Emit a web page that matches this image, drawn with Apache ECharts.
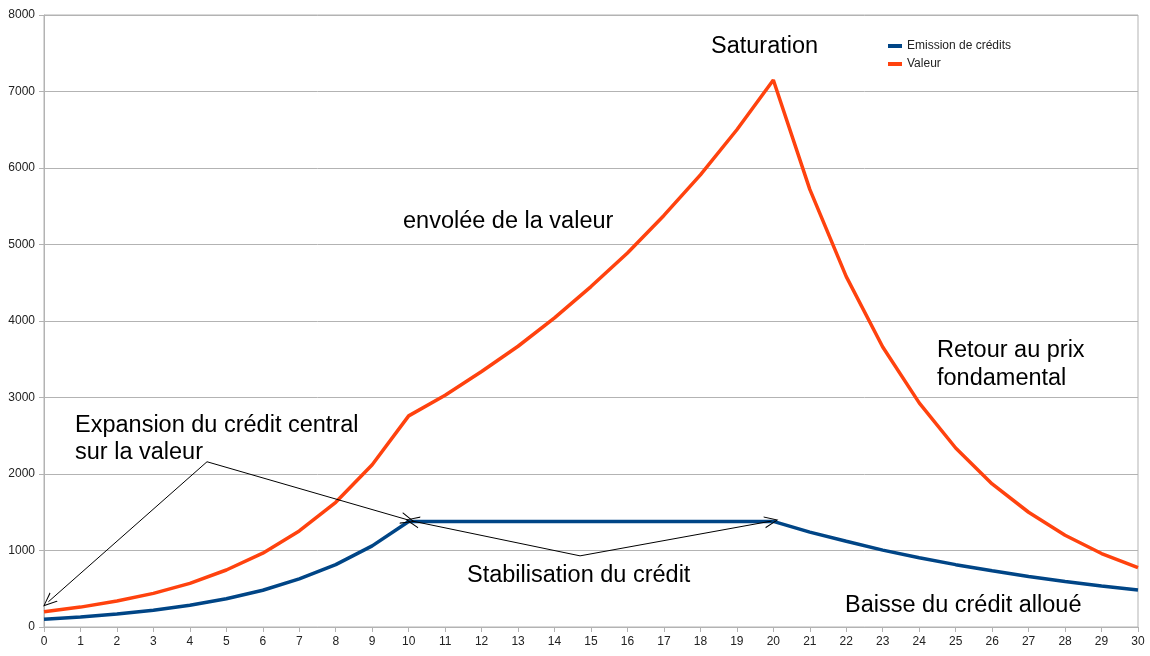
<!DOCTYPE html>
<html>
<head>
<meta charset="utf-8">
<title>Emission de crédits / Valeur</title>
<script src="https://cdn.jsdelivr.net/npm/echarts@6/dist/echarts.min.js"></script>
<style>
  html, body { margin: 0; padding: 0; background: #fff; }
  #chart { width: 1150px; height: 656px; }
</style>
</head>
<body>
<div id="chart"></div>
<script>
// abscisses 0..30
const periods = [0, 1, 2, 3, 4, 5, 6, 7, 8, 9, 10, 11, 12, 13, 14, 15, 16, 17, 18, 19, 20,
  21, 22, 23, 24, 25, 26, 27, 28, 29, 30]
const yTicks = [0, 1000, 2000, 3000, 4000, 5000, 6000, 7000, 8000]

const emissionCredits = [100, 130, 170, 220, 285, 370, 480, 630, 815, 1060, 1380,
  1380, 1380, 1380, 1380, 1380, 1380, 1380, 1380, 1380, 1380,
  1240, 1120, 1005, 905, 815, 735, 660, 595, 535, 485]
const valeur = [200, 260, 340, 440, 570, 745, 965, 1255, 1630, 2120, 2760,
  3030, 3340, 3670, 4040, 4450, 4890, 5380, 5910, 6500, 7150,
  5720, 4580, 3660, 2930, 2340, 1870, 1500, 1200, 960, 775]

// flèches d'annotation (coordonnées en unités des axes)
const arrows = [
  [[4.47, 2160], [0.12, 330]],
  [[4.47, 2160], [9.98, 1400]],
  [[14.7, 930], [10.1, 1385]],
  [[14.7, 930], [19.95, 1385]]
]

const chevron = 'path://M5,0 L10,12 L9,12 L5,2 L1,12 L0,12 Z'
const textFont = '23.5px "Liberation Sans", Arial, sans-serif'

const chart = echarts.init(document.getElementById('chart'))

chart.setOption({
  animation: false,
  textStyle: { fontFamily: '"Liberation Sans", Arial, sans-serif' },
  grid: {
    left: 44,
    right: 12,
    top: 15,
    bottom: 29,
    show: true,
    borderColor: '#b3b3b3',
    borderWidth: 1
  },
  legend: {
    orient: 'vertical',
    left: 888,
    top: 40,
    padding: 0,
    itemWidth: 14,
    itemHeight: 4,
    itemGap: 6,
    icon: 'rect',
    textStyle: { fontSize: 12, color: '#222', lineHeight: 12 },
    data: ['Emission de crédits', 'Valeur']
  },
  xAxis: {
    type: 'value',
    min: periods[0],
    max: periods[periods.length - 1],
    interval: 1,
    axisLine: { lineStyle: { color: '#b3b3b3' } },
    axisTick: { show: true, length: 5, lineStyle: { color: '#b3b3b3' } },
    axisLabel: { color: '#222', fontSize: 12, margin: 9 },
    splitLine: { show: false }
  },
  yAxis: {
    type: 'value',
    min: yTicks[0],
    max: yTicks[yTicks.length - 1],
    interval: 1000,
    axisLine: { show: true, lineStyle: { color: '#b3b3b3' } },
    axisTick: { show: true, length: 5, lineStyle: { color: '#b3b3b3' } },
    axisLabel: { color: '#222', fontSize: 12, margin: 9, formatter: v => String(v) },
    splitLine: { lineStyle: { color: '#b3b3b3', width: 1 } }
  },
  series: [
    {
      name: 'Emission de crédits',
      type: 'line',
      symbol: 'none',
      color: '#004586',
      lineStyle: { width: 3.5 },
      data: periods.map((p, i) => [p, emissionCredits[i]])
    },
    {
      name: 'Valeur',
      type: 'line',
      symbol: 'none',
      color: '#ff420e',
      lineStyle: { width: 3.5 },
      data: periods.map((p, i) => [p, valeur[i]]),
      markLine: {
        silent: true,
        symbol: ['none', chevron],
        symbolSize: [12, 14],
        label: { show: false },
        lineStyle: { color: '#000', width: 1, type: 'solid' },
        data: arrows.map(a => [{ coord: a[0] }, { coord: a[1] }])
      }
    }
  ],
  graphic: [
    { type: 'text', left: 711, top: 35, style: { text: 'Saturation', font: textFont, fill: '#000' } },
    { type: 'text', left: 403, top: 210, style: { text: 'envolée de la valeur', font: textFont, fill: '#000' } },
    { type: 'text', left: 937, top: 337, style: { text: 'Retour au prix\nfondamental', font: textFont, fill: '#000', lineHeight: 28 } },
    { type: 'text', left: 75, top: 412, style: { text: 'Expansion du crédit central\nsur la valeur', font: textFont, fill: '#000', lineHeight: 27 } },
    { type: 'text', left: 467, top: 564, style: { text: 'Stabilisation du crédit', font: textFont, fill: '#000' } },
    { type: 'text', left: 845, top: 594, style: { text: 'Baisse du crédit alloué', font: textFont, fill: '#000' } }
  ]
})
</script>
</body>
</html>
